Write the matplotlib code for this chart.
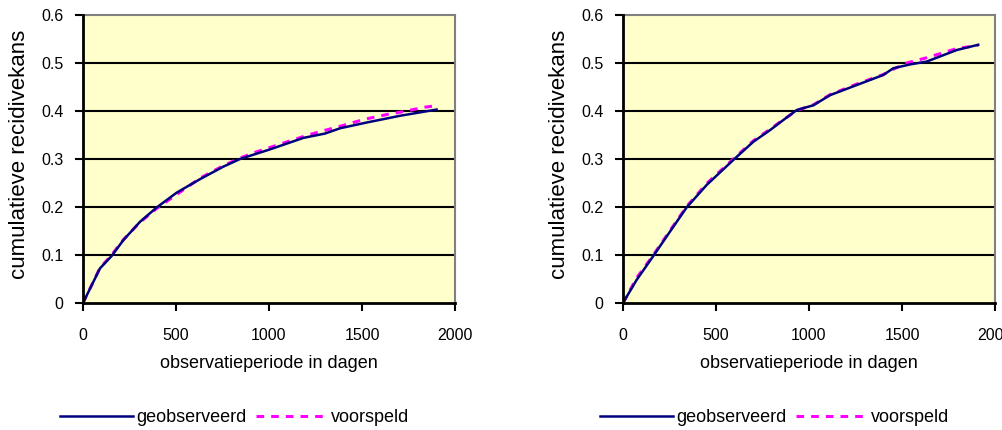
import matplotlib
matplotlib.use('Agg')
import matplotlib.pyplot as plt

plt.rcParams['font.family'] = ['Liberation Sans', 'DejaVu Sans']

# left panel
dagen_l_obs = [0, 91, 154, 217, 306, 396, 504, 629, 754, 844, 1005, 1185, 1301, 1382, 1525, 1704, 1901]
kans_l_obs = [0, 0.072, 0.098, 0.131, 0.169, 0.199, 0.230, 0.258, 0.284, 0.300, 0.320, 0.344, 0.353, 0.364, 0.376, 0.390, 0.403]
dagen_l_pred = [0, 91, 154, 217, 306, 396, 470, 629, 754, 844, 934, 1005, 1194, 1256, 1390, 1516, 1650, 1713, 1839, 1901]
kans_l_pred = [0, 0.073, 0.100, 0.132, 0.168, 0.197, 0.217, 0.260, 0.286, 0.302, 0.315, 0.324, 0.348, 0.355, 0.369, 0.383, 0.394, 0.398, 0.408, 0.411]

# right panel
dagen_r_obs = [0, 73, 163, 253, 342, 450, 593, 701, 790, 844, 934, 1024, 1113, 1256, 1399, 1453, 1543, 1633, 1794, 1910]
kans_r_obs = [0, 0.048, 0.098, 0.149, 0.199, 0.246, 0.298, 0.336, 0.360, 0.376, 0.402, 0.412, 0.433, 0.454, 0.475, 0.489, 0.497, 0.503, 0.527, 0.538]
dagen_r_pred = [0, 73, 163, 253, 342, 450, 593, 701, 790, 844, 934, 1024, 1113, 1256, 1399, 1453, 1525, 1633, 1794, 1910]
kans_r_pred = [0, 0.052, 0.100, 0.151, 0.201, 0.249, 0.300, 0.338, 0.362, 0.377, 0.401, 0.413, 0.434, 0.456, 0.476, 0.487, 0.500, 0.511, 0.530, 0.537]

xticks = [0, 500, 1000, 1500, 2000]
yticks = [0, 0.1, 0.2, 0.3, 0.4, 0.5, 0.6]
ytick_labels = ['0', '0.1', '0.2', '0.3', '0.4', '0.5', '0.6']

W, H = 1003, 430
fig = plt.figure(figsize=(W / 100, H / 100), dpi=100)

panels = [
    (83, dagen_l_obs, kans_l_obs, dagen_l_pred, kans_l_pred),
    (623, dagen_r_obs, kans_r_obs, dagen_r_pred, kans_r_pred),
]

for left, xo, yo, xp, yp in panels:
    ax = fig.add_axes([left / W, (H - 303) / H, 372 / W, 288 / H])
    ax.set_facecolor('#ffffcc')
    ax.set_xlim(0, 2000)
    ax.set_ylim(0, 0.6)
    for y in yticks[1:-1]:
        ax.axhline(y, color='black', lw=1.5, zorder=1)
    l1, = ax.plot(xo, yo, color='#000080', lw=1.8, zorder=3, label='geobserveerd')
    l2, = ax.plot(xp, yp, color='#ff00ff', lw=2.2, dashes=(2.5, 2.3), zorder=2, label='voorspeld')
    ax.set_xticks(xticks)
    ax.set_xticklabels([str(t) for t in xticks])
    ax.set_yticks(yticks)
    ax.set_yticklabels(ytick_labels)
    ax.tick_params(axis='both', direction='out', length=6, width=1.5, labelsize=11.5, colors='black')
    ax.tick_params(axis='x', pad=12)
    ax.tick_params(axis='y', pad=8)
    for s in ['left', 'bottom']:
        ax.spines[s].set_color('black')
        ax.spines[s].set_linewidth(2)
    for s in ['top', 'right']:
        ax.spines[s].set_color('#808080')
        ax.spines[s].set_linewidth(1.5)
    ax.spines['left'].set_zorder(4)
    ax.spines['bottom'].set_zorder(4)

    fig.text((left + 186) / W, 1 - 364 / H, 'observatieperiode in dagen',
             ha='center', va='center', fontsize=13)
    fig.text((left - 63) / W, 1 - 154 / H, 'cumulatieve recidivekans',
             ha='center', va='center', rotation=90, fontsize=16)

    fig.legend(handles=[l1, l2], loc='center', ncol=2,
               bbox_to_anchor=((left + 152) / W, 1 - 418 / H),
               frameon=False, fontsize=13, handlelength=4.0,
               handletextpad=0.2, columnspacing=0.5, borderaxespad=0)

fig.savefig('out.png', dpi=100)
